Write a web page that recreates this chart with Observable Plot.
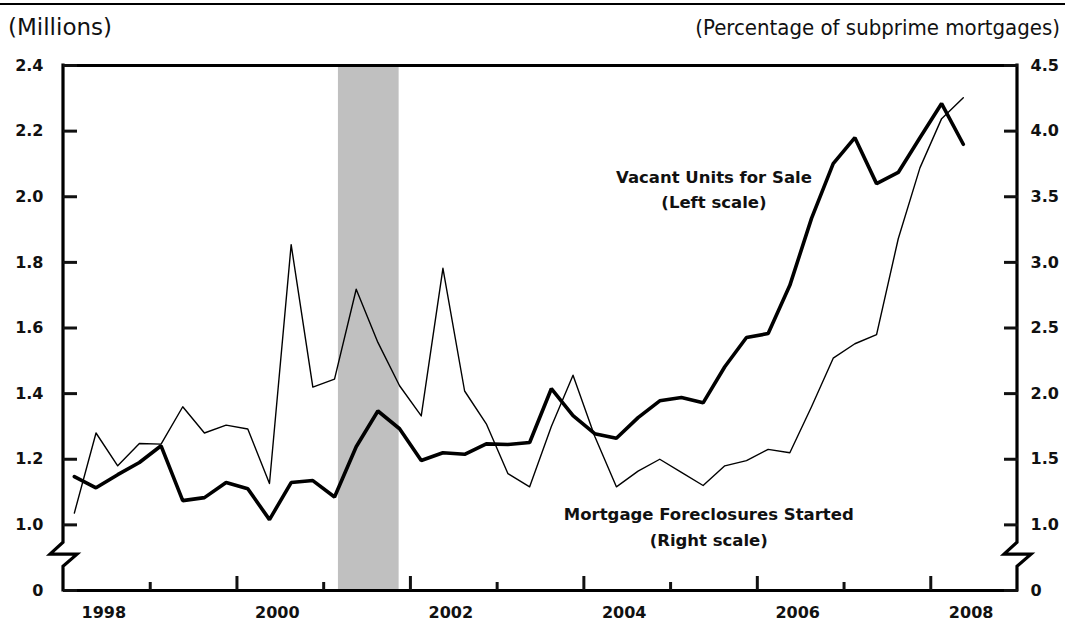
<!DOCTYPE html>
<html><head><meta charset="utf-8">
<script src="https://cdn.jsdelivr.net/npm/d3@7"></script>
<script src="https://cdn.jsdelivr.net/npm/@observablehq/plot@0.6"></script>
<style>
body{margin:0;background:#fff;}
#wrap{position:relative;width:1065px;height:627px;overflow:hidden;background:#fff;}
#rule{position:absolute;left:0;top:3px;width:1065px;height:2px;background:#000;}
.hdr{position:absolute;top:15px;font-size:22px;color:#111;line-height:1.2;white-space:nowrap;}
#hl{left:8px;font-family:"DejaVu Sans",sans-serif;font-size:23px;top:14px;}
#hr{right:5px;font-family:"DejaVu Sans Condensed","DejaVu Sans",sans-serif;}
#chart{position:absolute;left:0;top:50px;}
</style></head><body>
<div id="wrap">
<div id="rule"></div>
<div class="hdr" id="hl">(Millions)</div>
<div class="hdr" id="hr">(Percentage of subprime mortgages)</div>
<div id="chart"></div>
</div>
<script>
// ---- data ----
const quarters = ["1998Q1","1998Q2","1998Q3","1998Q4","1999Q1","1999Q2","1999Q3","1999Q4",
  "2000Q1","2000Q2","2000Q3","2000Q4","2001Q1","2001Q2","2001Q3","2001Q4",
  "2002Q1","2002Q2","2002Q3","2002Q4","2003Q1","2003Q2","2003Q3","2003Q4",
  "2004Q1","2004Q2","2004Q3","2004Q4","2005Q1","2005Q2","2005Q3","2005Q4",
  "2006Q1","2006Q2","2006Q3","2006Q4","2007Q1","2007Q2","2007Q3","2007Q4",
  "2008Q1","2008Q2"];
// Vacant units for sale, millions (left scale)
const vacantUnits = [1.147, 1.113, 1.153, 1.190, 1.241, 1.074, 1.083, 1.129, 1.110, 1.016,
  1.129, 1.135, 1.085, 1.238, 1.347, 1.293, 1.196, 1.220, 1.215, 1.247,
  1.245, 1.251, 1.415, 1.333, 1.278, 1.264, 1.327, 1.378, 1.388, 1.372,
  1.482, 1.571, 1.583, 1.730, 1.934, 2.101, 2.180, 2.040, 2.074, 2.180,
  2.284, 2.160];
// Mortgage foreclosures started, % of subprime mortgages (right scale)
const foreclosures = [1.09, 1.70, 1.45, 1.62, 1.615, 1.90, 1.70, 1.76, 1.73, 1.315,
  3.135, 2.05, 2.11, 2.795, 2.39, 2.06, 1.83, 2.955, 2.02, 1.77,
  1.39, 1.29, 1.75, 2.14, 1.675, 1.29, 1.41, 1.50, 1.40, 1.30,
  1.45, 1.49, 1.575, 1.55, 1.90, 2.27, 2.38, 2.45, 3.18, 3.72,
  4.095, 4.255];
const recessions = [{start: 2001.17, end: 2001.87}];
const leftTickLabels = ["0", "1.0", "1.2", "1.4", "1.6", "1.8", "2.0", "2.2", "2.4"];
const rightTickLabels = ["0", "1.0", "1.5", "2.0", "2.5", "3.0", "3.5", "4.0", "4.5"];
const yearLabels = ["1998", "2000", "2002", "2004", "2006", "2008"];
const tickYears = [1999, 2000, 2001, 2002, 2003, 2004, 2005, 2006, 2007, 2008];
const vacantLabel = "Vacant Units for Sale\n(Left scale)";
const foreclosureLabel = "Mortgage Foreclosures Started\n(Right scale)";

// ---- scale helpers (broken axis: "0" sits just below the 1.0 gridline) ----
const BASE = 0.8;           // left-scale position of the "0" baseline
const leftPos = v => v === 0 ? BASE : v;
const rightPos = r => r === 0 ? BASE : 1 + (r - 1) * 0.4;   // right 1.0..4.5 -> left 1.0..2.4
const qTime = q => +q.slice(0, 4) + (+q.slice(5) - 0.5) / 4;

const data = quarters.map((q, i) => ({t: qTime(q), vac: vacantUnits[i], fc: foreclosures[i]}));
const leftTicks = leftTickLabels.map(s => ({pos: leftPos(+s), label: s}));
const rightTicks = rightTickLabels.map(s => ({pos: rightPos(+s), label: s}));
const leftMap = new Map(leftTicks.map(d => [d.pos, d.label]));
const rightMap = new Map(rightTicks.map(d => [d.pos, d.label]));

const FONT = "DejaVu Sans";
const BREAK_TOP = 0.9457, BREAK_BOTTOM = 0.8726;

function axisLines(index, scales) {
  const {x, y} = scales;
  const g = d3.create("svg:g").attr("fill", "none").attr("stroke", "black")
    .attr("stroke-width", 3.2).attr("stroke-linejoin", "miter");
  for (const xv of [1998, 2009]) {
    const px = x(xv), top = y(2.4), bot = y(BASE), b1 = y(BREAK_TOP), b2 = y(BREAK_BOTTOM), mid = (b1 + b2) / 2;
    g.append("path").attr("d",
      `M${px},${top - 1.5}L${px},${b1}L${px - 13},${mid}L${px + 14},${mid}L${px},${b2}L${px},${bot + 1.5}`);
  }
  return g.node();
}

const chart = Plot.plot({
  width: 1065, height: 577,
  marginTop: 15, marginBottom: 37, marginLeft: 63, marginRight: 48,
  x: {domain: [1998, 2009], axis: null},
  y: {domain: [BASE, 2.4], axis: null},
  style: {fontFamily: FONT, background: "white", overflow: "visible", color: "#111"},
  marks: [
    Plot.rectX(recessions, {x1: "start", x2: "end", fill: "#c0c0c0"}),
    Plot.line(data, {x: "t", y: d => rightPos(d.fc), stroke: "black", strokeWidth: 1.4}),
    Plot.line(data, {x: "t", y: "vac", stroke: "black", strokeWidth: 3.6, strokeLinejoin: "miter"}),
    Plot.ruleY([2.4], {stroke: "black", strokeWidth: 3.2}),
    Plot.ruleY([BASE], {stroke: "black", strokeWidth: 3.2}),
    axisLines,
    // inward tick marks
    Plot.axisY(leftTicks.map(d => d.pos), {anchor: "left", label: null, tickSize: -14, strokeWidth: 3, tickFormat: () => ""}),
    Plot.axisY(rightTicks.map(d => d.pos), {anchor: "right", label: null, tickSize: -14, strokeWidth: 3, tickFormat: () => ""}),
    Plot.axisX(tickYears.filter(y => y % 2 === 0), {anchor: "bottom", label: null, tickSize: -14, strokeWidth: 3, tickFormat: () => ""}),
    Plot.axisX(tickYears.filter(y => y % 2 === 1), {anchor: "bottom", label: null, tickSize: -8, strokeWidth: 3, tickFormat: () => ""}),
    // labels
    Plot.axisY(leftTicks.map(d => d.pos), {anchor: "left", label: null, tickSize: 0, tickPadding: 20, tickFormat: d => leftMap.get(d),
      fontSize: 16, fontWeight: "bold", fill: "#111"}),
    Plot.axisY(rightTicks.map(d => d.pos), {anchor: "right", label: null, tickSize: 0, tickPadding: 13, tickFormat: d => rightMap.get(d),
      fontSize: 16, fontWeight: "bold", fill: "#111"}),
    Plot.axisX(yearLabels.map(s => +s + 0.5), {anchor: "bottom", label: null, tickSize: 0, tickPadding: 16, dx: -3,
      tickFormat: d => String(Math.floor(d)), fontSize: 16, fontWeight: "bold", fill: "#111"}),
    Plot.text([vacantLabel], {x: 2005.5, y: 2.027, text: d => d, fontSize: 16.5, fontWeight: "bold",
      lineHeight: 1.52, textAnchor: "middle", fill: "#111"}),
    Plot.text([foreclosureLabel], {x: 2005.44, y: 1.0006, text: d => d, fontSize: 16.5, fontWeight: "bold",
      lineHeight: 1.58, textAnchor: "middle", fill: "#111"})
  ]
});
document.getElementById("chart").appendChild(chart);
</script>
</body></html>
